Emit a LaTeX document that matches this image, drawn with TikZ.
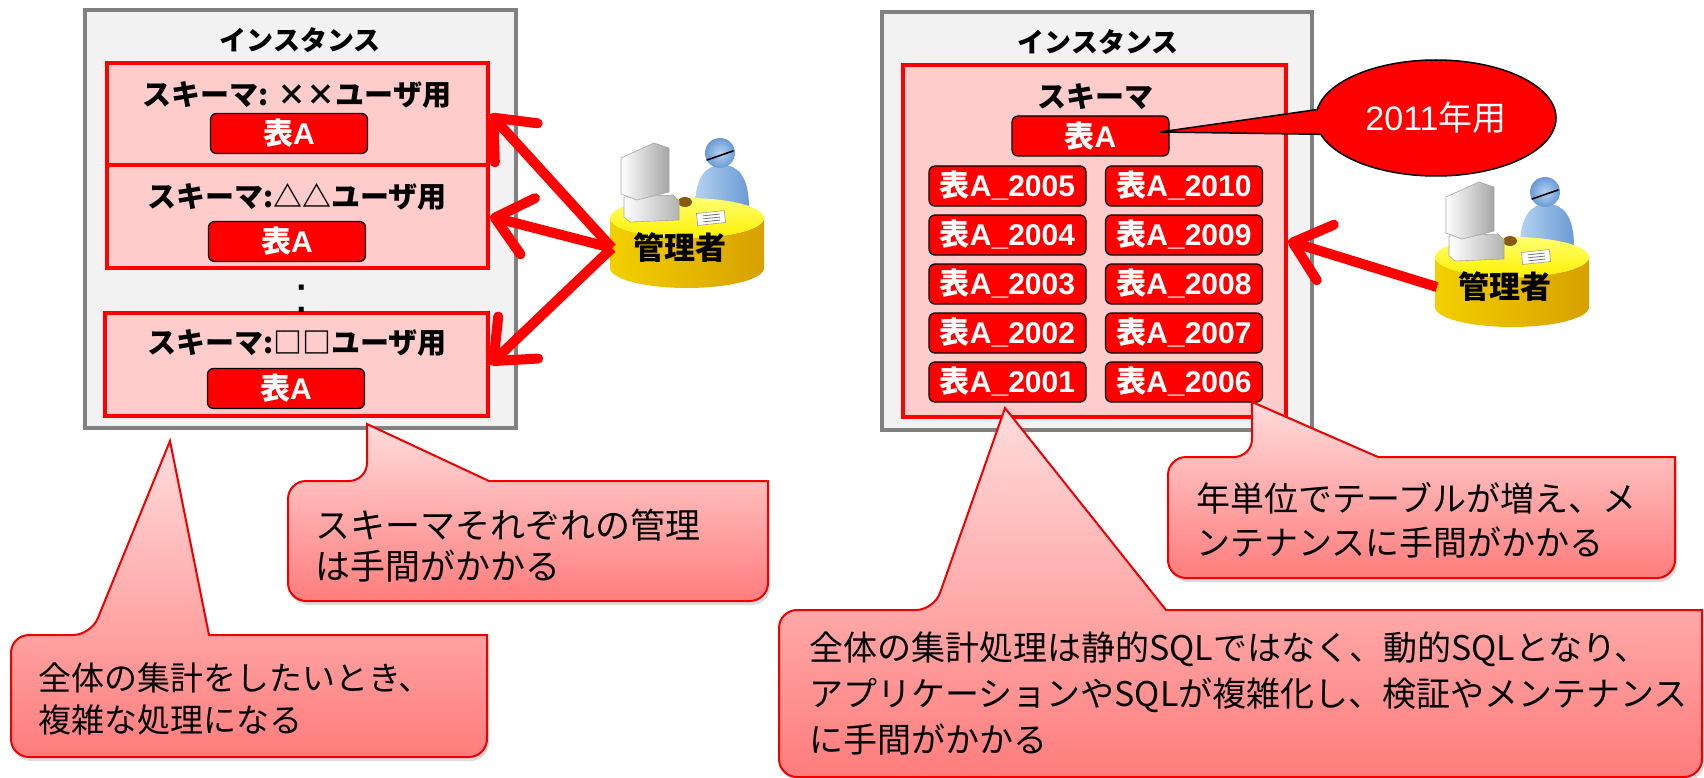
\documentclass[tikz,border=0pt]{standalone}
\usepackage{fontspec}
\setmainfont{Liberation Sans}
\newfontfamily\jp{Noto Sans CJK JP}
\usetikzlibrary{arrows.meta,shapes.geometric,shadows,calc}

\definecolor{instfill}{HTML}{F2F2F2}
\definecolor{instline}{HTML}{808080}
\definecolor{schemafill}{HTML}{FFCCCC}
\definecolor{notetop}{HTML}{FFDCDC}
\definecolor{notebot}{HTML}{FF7C7C}
\definecolor{noteline}{HTML}{F00000}
\definecolor{deskL}{HTML}{F2D000}
\definecolor{deskM}{HTML}{FFFF1A}
\definecolor{deskR}{HTML}{D8A000}
\definecolor{desktopA}{HTML}{FFFF70}
\definecolor{desktopB}{HTML}{FFF000}
\definecolor{personlt}{HTML}{B4D2F2}
\definecolor{persondk}{HTML}{6A9AD4}
\definecolor{chair}{HTML}{8A5A10}

\tikzset{
  instbox/.style={draw=instline, line width=4.5, fill=instfill, inner sep=0},
  schemabox/.style={draw=red, line width=4, fill=schemafill, inner sep=0},
  tablebox/.style={draw=black, line width=1.3, fill=red, rounded corners=6,
    text=white, inner sep=0, minimum width=157, minimum height=40,
    font=\bfseries\fontsize{30}{32}\selectfont},
  yeartable/.style={tablebox, font=\bfseries\fontsize{30}{32}\selectfont},
  instlabel/.style={inner sep=0, font={\jp\bfseries\fontsize{27}{30}\selectfont}},
  schemalabel/.style={inner sep=0, font={\jp\bfseries\fontsize{29}{32}\selectfont}},
  notetext/.style={inner sep=0, anchor=west, align=left},
  note/.style={draw=noteline, line width=2, top color=notetop, bottom color=notebot,
    drop shadow={shadow xshift=2pt, shadow yshift=-4pt, opacity=0.28}},
  adminarrow/.style={draw=red, line width=10, -{Straight Barb[length=34pt, width=58pt, round]}},
  pics/admin/.style={code={
    % operator behind the desk
    \shade[left color=personlt, right color=persondk]
      (8,-10) .. controls (8,-40) and (18,-53) .. (35,-53)
      .. controls (52,-53) and (62,-40) .. (62,-10) -- cycle;
    \shade[inner color=personlt, outer color=persondk] (33,-65) circle[radius=15];
    \draw[line width=1.6, line cap=round] (20,-58) -- (46,-67);
    % round desk
    \shade[left color=deskL, middle color=deskM, right color=deskR]
      (-77,0) -- (-77,50) arc[start angle=180, end angle=0, x radius=77, y radius=20]
      -- (77,0) arc[start angle=0, end angle=180, x radius=77, y radius=20] -- cycle;
    \shade[top color=desktopA, bottom color=desktopB] (0,0) ellipse[x radius=77, y radius=20];
    \fill[chair] (-2,-16) ellipse[x radius=7, y radius=5];
    % paper on the desk
    \begin{scope}[shift={(24,0)}, rotate=6]
      \filldraw[fill=white, draw=black!40, line width=0.6] (-14,-6) rectangle (14,6);
      \draw[black!55, line width=0.8] (-8,-3) -- (9,-3) (-8,0) -- (9,0) (-8,3) -- (9,3);
    \end{scope}
    % computer
    \shade[left color=white, right color=black!30, draw=black!35, line width=0.6]
      (-63,-21) -- (-14,-23) -- (-8,-17) -- (-8,2) -- (-57,4) -- (-63,-1) -- cycle;
    \shade[left color=white, right color=black!35, draw=black!35, line width=0.6]
      (-66,-60) -- (-33,-75) -- (-18,-70) -- (-18,-26) -- (-50,-18) -- (-66,-24) -- cycle;
    \node[inner sep=0, font={\jp\bfseries\fontsize{31}{33}\selectfont}] (-name) at (-7,30) {管理者};
    \coordinate (-port) at (-75,30);
  }}
}

\begin{document}
\begin{tikzpicture}[x=1pt, y=-1pt]
\useasboundingbox (0,0) rectangle (1704,778);

% ---------- one schema per user ----------
\node[instbox, minimum width=431, minimum height=418] (instL) at (300.5,219) {};
\node[instlabel] (instLlabel) at (300,40) {インスタンス};
\node[schemabox, minimum width=381, minimum height=102] (schL1) at (297.5,114) {};
\node[schemabox, minimum width=381, minimum height=103] (schL2) at (297.5,216.5) {};
\node[schemabox, minimum width=383, minimum height=103] (schL3) at (296.5,364.5) {};
\node[schemalabel] (schL1label) at (297,95) {スキーマ: ××ユーザ用};
\node[schemalabel] (schL2label) at (297,197) {スキーマ:△△ユーザ用};
\node[schemalabel] (schL3label) at (297,343) {スキーマ:□□ユーザ用};
\node[tablebox] (tL1) at (289,133.5) {{\jp 表}A};
\node[tablebox] (tL2) at (287,241.5) {{\jp 表}A};
\node[tablebox] (tL3) at (286,388.5) {{\jp 表}A};
\node[inner sep=0, anchor=base, font=\fontsize{52}{52}\selectfont] (dots) at (302,312) {:};

\pic (admL) at (687,218) {admin};
\draw[adminarrow] (admL-port) -- (schL1.east);
\draw[adminarrow] (admL-port) -- (schL2.east);
\draw[adminarrow] (admL-port) -- (schL3.east);

% ---------- one schema, one table per year ----------
\node[instbox, minimum width=430, minimum height=418] (instR) at (1097,221) {};
\node[instlabel] (instRlabel) at (1098,42) {インスタンス};
\node[schemabox, minimum width=383, minimum height=352] (schR) at (1094.5,241) {};
\node[schemalabel] (schRlabel) at (1095,97) {スキーマ};
\node[tablebox] (tA) at (1090.5,136) {{\jp 表}A};
\foreach \i/\l/\r in {0/2005/2010,1/2004/2009,2/2003/2008,3/2002/2007,4/2001/2006}{
  \node[yeartable] (t\l) at (1007.5,186+49*\i) {{\jp 表}A\_\l};
  \node[yeartable] (t\r) at (1184,186+49*\i) {{\jp 表}A\_\r};
}

% callout for the current year's table
\node[ellipse, draw=black, line width=1.5, fill=red, minimum width=240, minimum height=116,
  inner sep=0, text=white, font=\fontsize{34}{36}\selectfont] (yr) at (1436,118) {2011{\jp 年用}};
\coordinate (yrtip) at (1160,132);
\fill[red] (yr.176) -- (yrtip) -- (yr.188) -- ($(yr.182)+(9,0)$) -- cycle;
\draw[line width=1.5] (yr.176) -- (yrtip) -- (yr.188);

\pic (admR) at (1512,257) {admin};
\draw[adminarrow] (admR-port) -- (schR.east);

% ---------- notes ----------
\path[note] (288,541) [rounded corners=18] -- (288,481) -- (367,481) [sharp corners]
  -- (367,424) -- (489,481) -- (768,481) [rounded corners=18] -- (768,601) -- (288,601) -- cycle;
\node[notetext, font={\jp\fontsize{35}{41}\selectfont}] (noteA) at (315,546)
  {スキーマそれぞれの管理\\は手間がかかる};

\path[note] (11,696) [rounded corners=18] -- (11,635) -- (91,635) [sharp corners]
  -- (170,441) -- (209,635) -- (487,635) [rounded corners=18] -- (487,757) -- (11,757) -- cycle;
\node[notetext, font={\jp\fontsize{33}{42}\selectfont}] (noteB) at (38,699)
  {全体の集計をしたいとき、\\複雑な処理になる};

\path[note] (1168,517) [rounded corners=18] -- (1168,457) -- (1252,457) [sharp corners]
  -- (1252,402) -- (1378,457) -- (1675,457) [rounded corners=18] -- (1675,578) -- (1168,578) -- cycle;
\node[notetext, font={\jp\fontsize{34}{44}\selectfont}] (noteC) at (1196,520)
  {年単位でテーブルが増え、メ\\ンテナンスに手間がかかる};

\path[note] (779,694) [rounded corners=18] -- (779,610) -- (934,610) [sharp corners]
  -- (1005,408) -- (1166,610) -- (1702,610) [rounded corners=18] -- (1702,777) -- (779,777) -- cycle;
\node[notetext, font={\jp\fontsize{34}{46}\selectfont}] (noteD) at (809,694)
  {全体の集計処理は静的SQLではなく、動的SQLとなり、\\アプリケーションやSQLが複雑化し、検証やメンテナンス\\に手間がかかる};

\end{tikzpicture}
\end{document}
